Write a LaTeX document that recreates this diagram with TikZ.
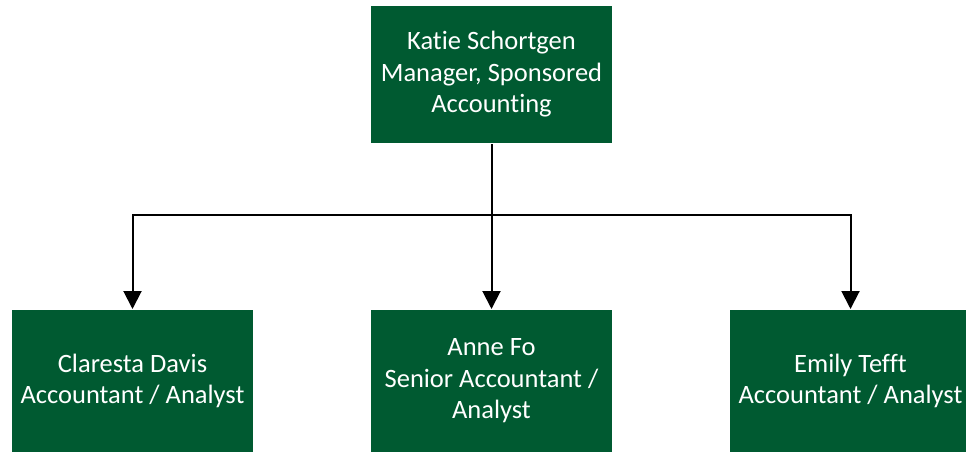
\documentclass[tikz,border=0pt]{standalone}
\usepackage{fontspec}
\setmainfont{Carlito}[Ligatures=CommonOff]
\usetikzlibrary{positioning,arrows.meta}
\definecolor{boxgreen}{RGB}{0,90,49}

\begin{document}
\begin{tikzpicture}[x=1pt, y=1pt, node distance=306.5pt and 359pt, on grid,
    >={Triangle[width=18pt,length=18pt]}, line width=2pt,
    person/.style={rectangle, fill=boxgreen, text=white, inner sep=0pt,
      minimum width=241pt, minimum height=142pt, align=center,
      font=\fontsize{26.5}{31.5}\selectfont}]
    \useasboundingbox (0,0) rectangle (966,-452);
    \clip (0,0) rectangle (966,-452);
    \node[person, minimum height=137pt] (katie) at (491.5,-74.5) {Katie Schortgen\\Manager, Sponsored\\Accounting};
    \node[person] (anne) [below=of katie] {Anne Fo\\Senior Accountant /\\Analyst};
    \node[person] (claresta) [left=of anne] {Claresta Davis\\Accountant / Analyst};
    \node[person] (emily) [right=of anne] {Emily Tefft\\Accountant / Analyst};
    \coordinate[below=71pt of katie.south] (bus);
    \draw (katie.south) -- (bus);
    \draw[->] (bus) -| (claresta.north);
    \draw[->] (bus) -- (anne.north);
    \draw[->] (bus) -| (emily.north);
\end{tikzpicture}
\end{document}
